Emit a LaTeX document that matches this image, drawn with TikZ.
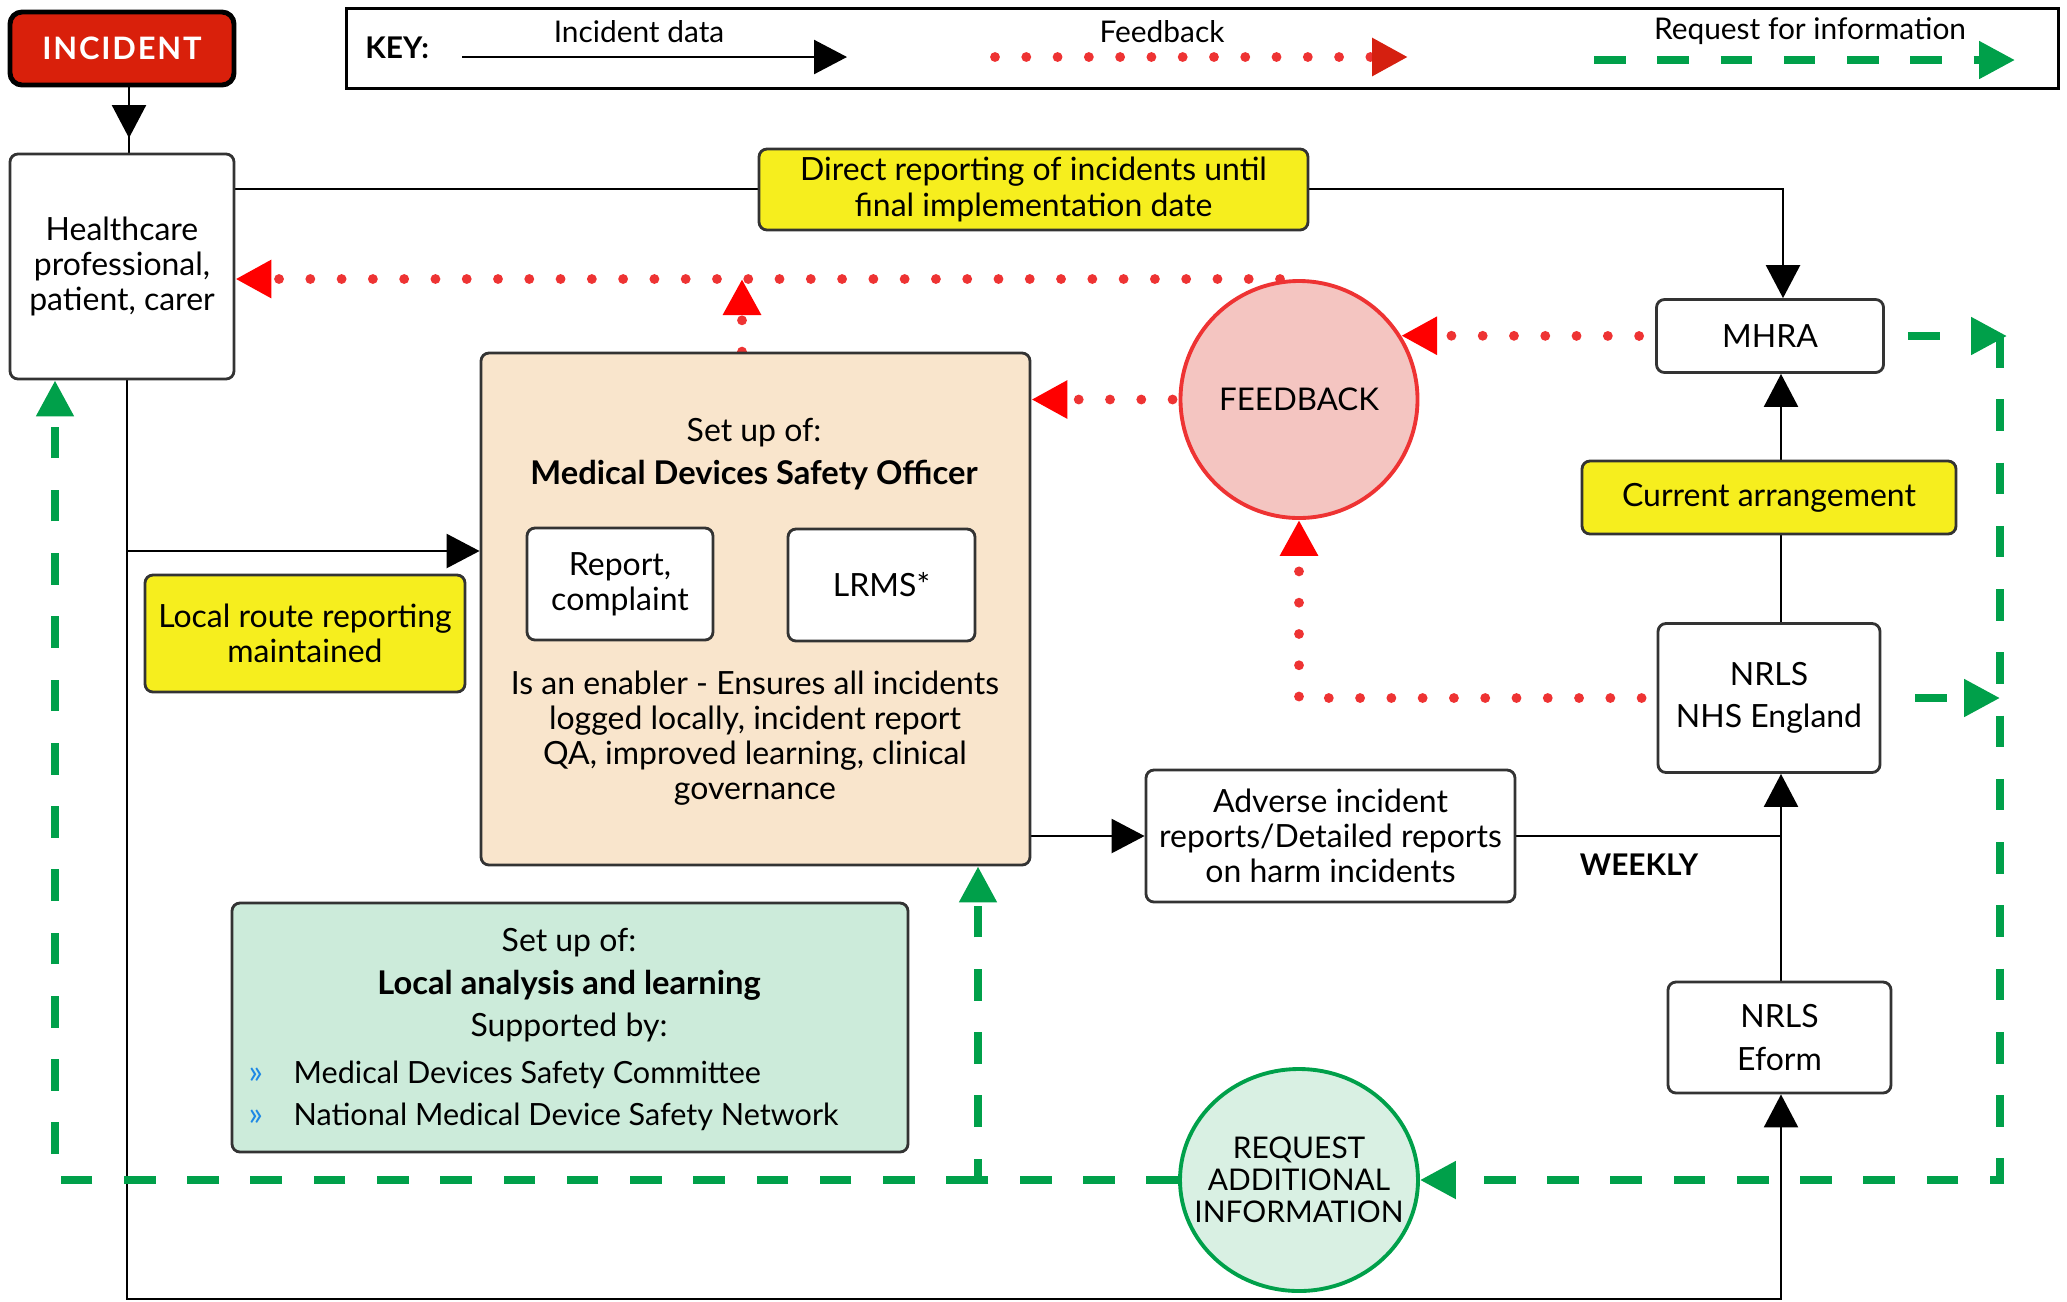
\documentclass[tikz,border=0pt]{standalone}
\usepackage{fontspec}
\setmainfont{Lato}
\usetikzlibrary{arrows.meta, shapes.geometric, backgrounds}

\definecolor{incidentred}{HTML}{D9200B}
\definecolor{notefill}{HTML}{F6EE1E}
\definecolor{peach}{HTML}{F9E5CC}
\definecolor{mint}{HTML}{CCEBDA}
\definecolor{feedfill}{HTML}{F4C5C1}
\definecolor{reqfill}{HTML}{D9F0E3}
\definecolor{dotred}{HTML}{EE3333}
\definecolor{tipred}{HTML}{FF0000}
\definecolor{keyred}{HTML}{D52010}
\definecolor{reqgreen}{HTML}{00A04A}
\definecolor{boxgray}{HTML}{333333}
\definecolor{bulletblue}{HTML}{1E88E5}

\newcommand{\fs}{\fontsize{9.1}{10}\selectfont}
\newcommand{\keyfs}{\fontsize{8.5}{10}\selectfont}
\newcommand{\bulletmark}{\makebox[0.45cm][l]{\textcolor{bulletblue}{\fontsize{9.5}{10}\selectfont »}}}

\begin{document}
\begin{tikzpicture}[x=1cm, y=-1cm, font=\fs,
	box/.style={draw=boxgray, line width=0.8pt, rounded corners=0.8mm, fill=white, align=center, inner sep=0pt},
	notebox/.style={box, fill=notefill},
	link/.style={line width=0.7pt},
	flow/.style={link, -{Triangle[length=3.3mm, width=3.4mm]}},
	feed/.style={dotred, line width=2.8pt, line cap=round, dash pattern=on 0pt off 8.9pt, -{Triangle[length=3.6mm, width=3.6mm, color=tipred]}},
	ask/.style={reqgreen, line width=2.3pt, dash pattern=on 9pt off 9pt, -{Triangle[length=3.6mm, width=3.6mm]}},
	]
	\useasboundingbox (0,0) rectangle (20.67,13.01);

	% key
	\node[draw, line width=0.85pt, minimum width=17.12cm, minimum height=0.80cm, anchor=north west] (key) at (3.45,0.07) {};
	\node[anchor=west, font=\keyfs\bfseries] (keylbl) at (3.53,0.48) {KEY:};
	\coordinate (kdataA) at (4.62,0.57);
	\coordinate (kdataB) at (8.47,0.57);
	\coordinate (kfeedA) at (9.95,0.57);
	\coordinate (kfeedB) at (14.08,0.57);
	\coordinate (kaskA) at (15.94,0.60);
	\coordinate (kaskB) at (20.15,0.60);
	\node[font=\keyfs] (kdatalbl) at (6.39,0.32) {Incident data};
	\node[font=\keyfs] (kfeedlbl) at (11.62,0.32) {Feedback};
	\node[font=\keyfs] (kasklbl) at (18.10,0.31) {Request for information};
	\draw[flow] (kdataA) -- (kdataB);
	\draw[feed, -{Triangle[length=3.6mm, width=3.6mm, color=keyred]}] (kfeedA) -- (kfeedB);
	\draw[ask] (kaskA) -- (kaskB);

	% boxes
	\node[box, draw=black, line width=1.4pt, fill=incidentred, rounded corners=1.2mm, minimum width=2.24cm, minimum height=0.73cm, text=white, font=\fontsize{8.8}{10}\selectfont\bfseries\addfontfeature{LetterSpace=6}] (incident) at (1.22,0.485) {INCIDENT};
	\node[box, minimum width=2.24cm, minimum height=2.25cm] (hcp) at (1.22,2.665) {Healthcare\\professional,\\patient, carer};
	\node[notebox, minimum width=5.49cm, minimum height=0.81cm] (direct) at (10.335,1.895) {Direct reporting of incidents until\\final implementation date};
	\node[box, minimum width=2.27cm, minimum height=0.73cm] (mhra) at (17.70,3.36) {MHRA};
	\node[notebox, minimum width=3.74cm, minimum height=0.73cm] (current) at (17.69,4.975) {Current arrangement};
	\node[box, minimum width=2.22cm, minimum height=1.49cm] (nrls) at (17.69,6.98) {NRLS\\[2pt]NHS England};
	\node[box, minimum width=3.69cm, minimum height=1.32cm] (adverse) at (13.305,8.36) {Adverse incident\\reports/Detailed reports\\on harm incidents};
	\node[font=\keyfs\bfseries] (weekly) at (16.39,8.65) {WEEKLY};
	\node[box, minimum width=2.23cm, minimum height=1.11cm] (eform) at (17.795,10.375) {NRLS\\[2pt]Eform};
	\node[circle, draw=dotred, line width=1.1pt, fill=feedfill, minimum size=2.37cm, inner sep=0pt, font=\fontsize{8.9}{10}\selectfont] (feedback) at (12.99,3.995) {FEEDBACK};
	\node[ellipse, draw=reqgreen, line width=1.1pt, fill=reqfill, minimum width=2.38cm, minimum height=2.22cm, inner sep=0pt] (request) at (12.99,11.80) {};
	\node[align=center, font=\fontsize{8.5}{9.1}\selectfont] (requesttext) at (request) {REQUEST\\ADDITIONAL\\INFORMATION};

	% medical devices safety officer
	\node[box, fill=peach, minimum width=5.49cm, minimum height=5.12cm] (mdso) at (7.555,6.09) {};
	\node (mdsoset) at (7.54,4.33) {Set up of:};
	\node[font=\fontsize{9.3}{10}\selectfont\bfseries] (mdsotitle) at (7.54,4.75) {Medical Devices Safety Officer};
	\node[box, minimum width=1.86cm, minimum height=1.12cm] (report) at (6.20,5.84) {Report,\\complaint};
	\node[box, minimum width=1.87cm, minimum height=1.12cm] (lrms) at (8.815,5.85) {LRMS*};
	\node[align=center] (enabler) at (7.55,7.38) {Is an enabler - Ensures all incidents\\logged locally, incident report\\QA, improved learning, clinical\\governance};

	\node[notebox, minimum width=3.20cm, minimum height=1.17cm] (localroute) at (3.05,6.335) {Local route reporting\\maintained};

	% local analysis and learning
	\node[box, fill=mint, minimum width=6.76cm, minimum height=2.49cm] (learning) at (5.70,10.275) {};
	\node (learnset) at (5.69,9.43) {Set up of:};
	\node[font=\fontsize{9.3}{10}\selectfont\bfseries] (learntitle) at (5.69,9.85) {Local analysis and learning};
	\node (learnsup) at (5.69,10.27) {Supported by:};
	\node[anchor=west, inner sep=0pt, font=\fontsize{8.7}{10}\selectfont] (learnitemA) at (2.48,10.75) {\bulletmark Medical Devices Safety Committee};
	\node[anchor=west, inner sep=0pt, font=\fontsize{8.7}{10}\selectfont] (learnitemB) at (2.48,11.17) {\bulletmark National Medical Device Safety Network};

	\begin{scope}[on background layer]
		% incident data
		\coordinate (inctip) at (1.29,1.38);
		\coordinate (mhraturn) at (17.83,1.89);
		\coordinate (leftdown) at (1.27,5.51);
		\coordinate (botleft) at (1.27,12.99);
		\coordinate (botright) at (17.81,12.99);
		\coordinate (weeklyjoin) at (17.81,8.36);
		\draw[link] (incident.south -| inctip) -- (hcp.north -| inctip);
		\draw[flow] (incident.south -| inctip) -- (inctip);
		\draw[flow] (hcp.east |- mhraturn) -- (mhraturn) -- (mhra.north -| mhraturn);
		\draw[flow] (leftdown) -- (mdso.west |- leftdown);
		\draw[flow] (hcp.south -| botleft) -- (botleft) -- (botright) -- (eform.south -| botright);
		\draw[flow] (mdso.east |- adverse) -- (adverse.west);
		\draw[link] (adverse.east) -- (weeklyjoin);
		\draw[flow] (eform.north -| weeklyjoin) -- (nrls.south -| weeklyjoin);
		\draw[flow] (nrls.north -| weeklyjoin) -- (mhra.south -| weeklyjoin);

		% feedback
		\coordinate (fbtop) at (12.80,2.79);
		\draw[feed, shorten <=0.16cm] (mhra.west) -- (feedback.32);
		\draw[feed, shorten <=0.15cm] (nrls.west) -- (nrls.west -| feedback.south) -- (feedback.south);
		\draw[feed, shorten <=0.06cm] (feedback.west) -- (mdso.east |- feedback.west);
		\draw[feed] (fbtop) -- (hcp.east |- fbtop);
		\draw[feed] ([xshift=-0.135cm]mdso.north) -- ([xshift=-0.135cm]mdso.north |- fbtop);

		% request for information
		\coordinate (asktip) at (20.07,3.36);
		\coordinate (askright) at (20.00,11.80);
		\coordinate (askmid) at (9.78,11.80);
		\coordinate (askleft) at (0.55,11.80);
		\draw[ask, shorten <=0.23cm] (mhra.east) -- (asktip);
		\draw[ask, shorten <=0.34cm] (nrls.east) -- (nrls.east -| askright);
		\draw[ask] (mhra.east -| askright) -- (askright) -- (request.east);
		\draw[ask] (request.west) -- (askmid) -- (mdso.south -| askmid);
		\draw[ask] (askmid) -- (askleft) -- (hcp.south -| askleft);
	\end{scope}
\end{tikzpicture}
\end{document}
